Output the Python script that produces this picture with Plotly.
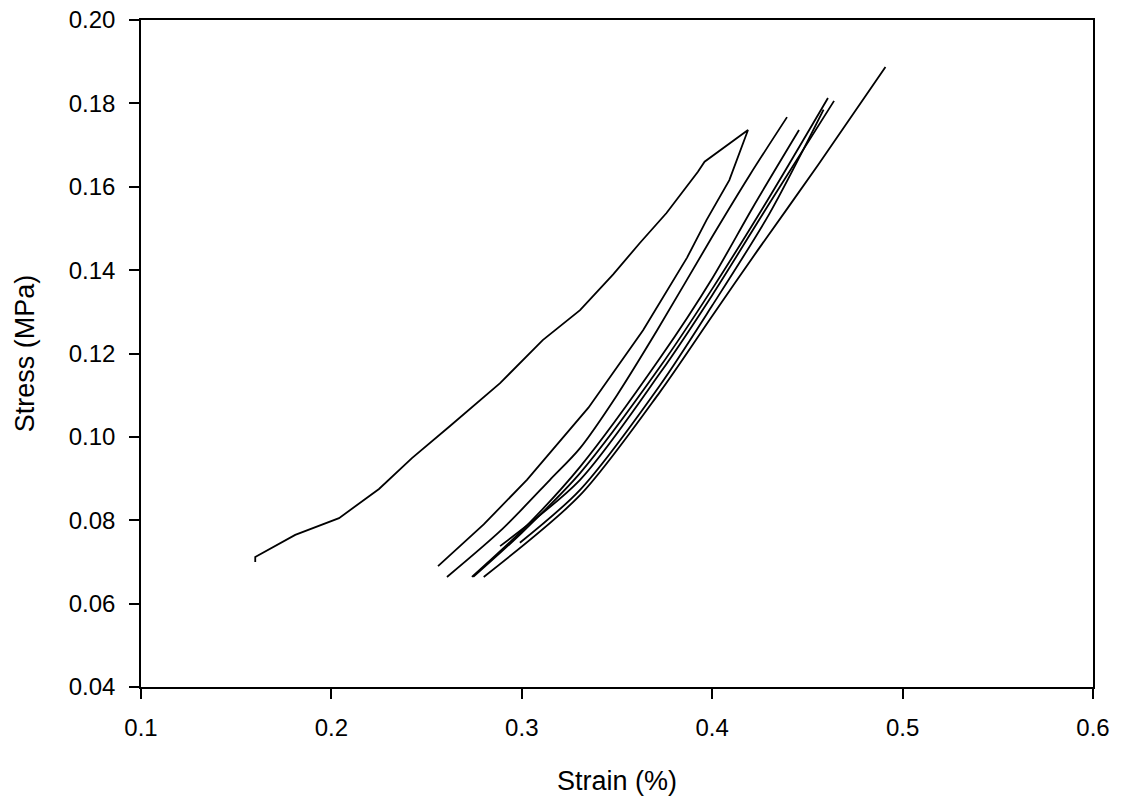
import plotly.graph_objects as go

# strain (%) / stress (MPa), one pair of lists per curve
loop_x = [0.160, 0.160, 0.181, 0.204, 0.225, 0.2423, 0.262, 0.2886, 0.311, 0.3306,
          0.348, 0.362, 0.376, 0.3925, 0.396, 0.4188, 0.409, 0.397, 0.3868, 0.3637,
          0.335, 0.3027, 0.280, 0.256]
loop_y = [0.0700, 0.0712, 0.0765, 0.0805, 0.0875, 0.0949, 0.1025, 0.1129, 0.1232, 0.1304,
          0.1390, 0.1465, 0.1537, 0.1636, 0.1660, 0.1736, 0.1616, 0.1520, 0.1430, 0.1256,
          0.1070, 0.0897, 0.0790, 0.0690]

b_x = [0.2607, 0.290, 0.3148, 0.3306, 0.350, 0.371, 0.400, 0.420, 0.4393]
b_y = [0.0664, 0.0780, 0.0897, 0.0973, 0.1100, 0.1255, 0.1480, 0.1630, 0.1767]

c_x = [0.2738, 0.300, 0.3306, 0.3726, 0.400, 0.4214, 0.4456]
c_y = [0.0664, 0.0775, 0.0928, 0.1189, 0.1380, 0.1551, 0.1736]

d_x = [0.2745, 0.300, 0.3306, 0.3726, 0.400, 0.430, 0.4608]
d_y = [0.0664, 0.0770, 0.0913, 0.1168, 0.1355, 0.1575, 0.1813]

e_x = [0.2886, 0.3306, 0.3726, 0.400, 0.430, 0.464]
e_y = [0.0738, 0.0897, 0.1153, 0.1340, 0.1560, 0.1806]

g_x = [0.299, 0.3306, 0.3726, 0.400, 0.430, 0.4585]
g_y = [0.0746, 0.0873, 0.1124, 0.1315, 0.1535, 0.1785]

f_x = [0.2800, 0.3306, 0.3726, 0.400, 0.4235, 0.4556, 0.491]
f_y = [0.0664, 0.0860, 0.1108, 0.1290, 0.1445, 0.1652, 0.1887]

smooth_curves = [(b_x, b_y), (c_x, c_y), (d_x, d_y), (e_x, e_y), (g_x, g_y), (f_x, f_y)]

x_ticks = [0.1, 0.2, 0.3, 0.4, 0.5, 0.6]
y_ticks = [0.04, 0.06, 0.08, 0.10, 0.12, 0.14, 0.16, 0.18, 0.20]

FONT = 'Liberation Sans, Arial'

fig = go.Figure()
fig.add_trace(
    go.Scatter(
        x=loop_x,
        y=loop_y,
        mode='lines',
        line=dict(color='black', width=1.8),
        showlegend=False
    )
)
for xs, ys in smooth_curves:
    fig.add_trace(
        go.Scatter(
            x=xs,
            y=ys,
            mode='lines',
            line=dict(color='black', width=1.8, shape='spline', smoothing=0.8),
            showlegend=False
        )
    )

axis_style = dict(
    showline=True,
    linecolor='black',
    linewidth=1.5,
    mirror=True,
    showgrid=False,
    zeroline=False,
    automargin=False,
    ticklabeloverflow='allow',
    ticks='outside',
    ticklen=10,
    tickwidth=1.5,
    tickcolor='black',
    tickfont=dict(family=FONT, size=24, color='black'),
)

fig.update_xaxes(
    range=[0.1, 0.6],
    tickvals=x_ticks,
    tickformat='.1f',
    ticklabelstandoff=8,
    title=dict(text='Strain (%)', font=dict(family=FONT, size=27, color='black'), standoff=32),
    **axis_style
)
fig.update_yaxes(
    range=[0.04, 0.20],
    tickvals=y_ticks,
    tickformat='.2f',
    ticklabelstandoff=9,
    title=dict(text='Stress (MPa)', font=dict(family=FONT, size=27, color='black'), standoff=26),
    **axis_style
)

# the page body adds an 8px margin at the top left, so the figure is a bit smaller
fig.update_layout(
    width=1113,
    height=789,
    margin=dict(l=133, r=28, t=12, b=110),
    plot_bgcolor='white',
    paper_bgcolor='white',
)

fig.write_html("out.html")
